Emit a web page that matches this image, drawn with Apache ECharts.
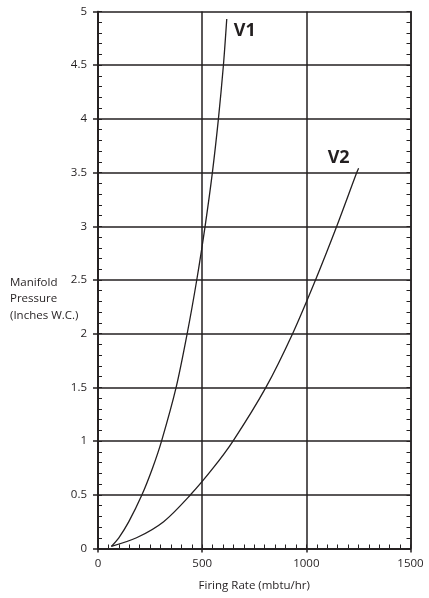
<!DOCTYPE html>
<html>
<head>
<meta charset="utf-8">
<script src="https://cdn.jsdelivr.net/npm/echarts@6/dist/echarts.min.js"></script>
<style>
html,body{margin:0;padding:0;background:#fff;}
#chart{width:429px;height:598px;}
</style>
</head>
<body>
<div id="chart"></div>
<script>
// Data
var v1X = [64, 100, 148, 211, 262, 305, 375, 428, 474, 514, 549, 578, 602, 618];
var v1Y = [0.02, 0.1, 0.25, 0.5, 0.75, 1.0, 1.5, 2.0, 2.5, 3.0, 3.5, 4.0, 4.5, 4.93];
var v2X = [64, 185, 315, 444, 553, 648, 806, 934, 1044, 1146, 1242, 1251];
var v2Y = [0.02, 0.1, 0.25, 0.5, 0.75, 1.0, 1.5, 2.0, 2.5, 3.0, 3.5, 3.54];
var seriesNames = ['V1', 'V2'];
var xTitle = 'Firing Rate (mbtu/hr)';
var yTitle = 'Manifold\nPressure\n(Inches W.C.)';

function zip(xs, ys) { return xs.map(function (x, i) { return [x, ys[i]]; }); }

var ink = '#231f20';
var font = '"Open Sans", "Noto Sans", sans-serif';
var plain = function (v) { return String(v); };
var blank = function () { return ''; };
var plotBox = {left: 98, right: 18.5, top: 11.5, bottom: 49.5};

function tickAxis(pos, max, step, gridIndex) {
  return {
    type: 'value', gridIndex: gridIndex, position: pos, min: 0, max: max, interval: step,
    axisLine: {show: true, onZero: false, lineStyle: {color: ink, width: 1.5}},
    axisTick: {show: true, inside: true, length: 4, lineStyle: {color: ink, width: 1}},
    axisLabel: {show: true, formatter: blank},
    splitLine: {show: false}
  };
}

var chart = echarts.init(document.getElementById('chart'), null, {renderer: 'canvas'});
chart.setOption({
  animation: false,
  backgroundColor: '#fff',
  textStyle: {fontFamily: font, color: ink},
  title: {
    text: yTitle,
    left: 10,
    top: 274,
    padding: 0,
    textStyle: {fontSize: 11.5, fontWeight: 'normal', color: ink, fontFamily: font, lineHeight: 16.5}
  },
  grid: [plotBox, plotBox],
  xAxis: [
    {
      type: 'value', gridIndex: 0, position: 'bottom', min: 0, max: 1500, interval: 500,
      name: xTitle, nameLocation: 'middle', nameGap: 31,
      nameTextStyle: {fontSize: 11.5, color: ink, fontFamily: font},
      axisLine: {show: true, onZero: false, lineStyle: {color: ink, width: 1.5}},
      axisTick: {show: true, inside: false, length: 4, lineStyle: {color: ink, width: 1.5}},
      axisLabel: {margin: 9, fontSize: 11.5, color: ink, fontFamily: font, formatter: plain},
      splitLine: {show: true, lineStyle: {color: ink, width: 1.5}}
    },
    tickAxis('bottom', 1500, 50, 1)
  ],
  yAxis: [
    {
      type: 'value', gridIndex: 0, position: 'left', min: 0, max: 5, interval: 0.5,
      axisLine: {show: true, onZero: false, lineStyle: {color: ink, width: 1.5}},
      axisTick: {show: true, inside: false, length: 5, lineStyle: {color: ink, width: 1.5}},
      axisLabel: {margin: 11, fontSize: 11.5, color: ink, fontFamily: font, formatter: plain},
      splitLine: {show: true, lineStyle: {color: ink, width: 1.5}}
    },
    tickAxis('left', 5, 0.1, 1),
    tickAxis('right', 5, 0.1, 0)
  ],
  series: [
    {
      name: seriesNames[0], type: 'line', xAxisIndex: 0, yAxisIndex: 0,
      data: zip(v1X, v1Y), smooth: 0.3,
      symbol: 'none', lineStyle: {color: ink, width: 1.3},
      endLabel: {show: true, formatter: seriesNames[0], offset: [7, 12], distance: 0,
        fontSize: 18, fontWeight: 'bold', color: ink, fontFamily: font}
    },
    {
      name: seriesNames[1], type: 'line', xAxisIndex: 0, yAxisIndex: 0,
      data: zip(v2X, v2Y), smooth: 0.3,
      symbol: 'none', lineStyle: {color: ink, width: 1.3},
      endLabel: {show: true, formatter: seriesNames[1], offset: [-31, -10], distance: 0,
        fontSize: 18, fontWeight: 'bold', color: ink, fontFamily: font}
    }
  ]
});
</script>
</body>
</html>
